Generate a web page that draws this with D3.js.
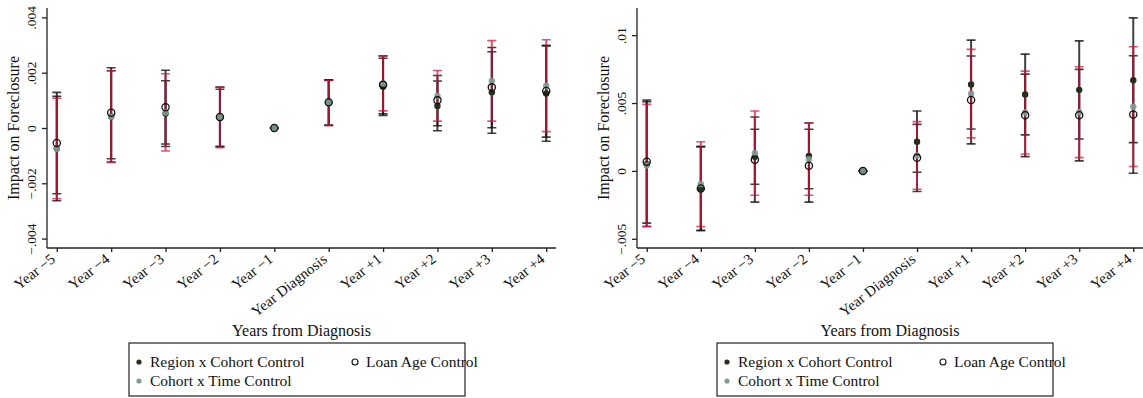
<!DOCTYPE html>
<html>
<head>
<meta charset="utf-8">
<script src="https://cdn.jsdelivr.net/npm/d3@7"></script>
<style>
  body { margin: 0; background: #fff; }
  svg { display: block; font-family: "Liberation Serif", "DejaVu Serif", serif; }
</style>
</head>
<body>
<div id="chart-container"></div>
<script>
// event-study style coefficient plots, two panels side by side
const categories = ["Year \u22125", "Year \u22124", "Year \u22123", "Year \u22122", "Year \u22121",
  "Year Diagnosis", "Year +1", "Year +2", "Year +3", "Year +4"];

const leftTicks = [-0.004, -0.002, 0, 0.002, 0.004];
const leftTickLabels = ["\u2212.004", "\u2212.002", "0", ".002", ".004"];
const rightTicks = [-0.005, 0, 0.005, 0.01];
const rightTickLabels = ["\u2212.005", "0", ".005", ".01"];

const seriesNames = ["Region x Cohort Control", "Loan Age Control", "Cohort x Time Control"];

// left panel (values in per-thousand, scaled below)
const leftRegionEst = [-0.74, 0.42, 0.52, 0.37, 0, 0.91, 1.49, 0.80, 1.29, 1.25];
const leftRegionLo  = [-2.63, -1.23, -0.67, -0.67, 0, 0.09, 0.45, -0.10, -0.19, -0.48];
const leftRegionHi  = [1.15, 2.07, 1.71, 1.40, 0, 1.73, 2.52, 1.70, 2.76, 2.98];

const leftLoanEst = [-0.54, 0.55, 0.75, 0.40, 0, 0.93, 1.56, 1.00, 1.47, 1.34];
const leftLoanLo  = [-2.38, -1.11, -0.58, -0.67, 0, 0.11, 0.51, 0.08, 0.01, -0.33];
const leftLoanHi  = [1.29, 2.18, 2.09, 1.48, 0, 1.74, 2.61, 1.90, 2.91, 2.98];

const leftCohortEst = [-0.75, 0.41, 0.56, 0.38, 0, 0.91, 1.61, 1.16, 1.70, 1.53];
const leftCohortLo  = [-2.56, -1.25, -0.83, -0.71, 0, 0.09, 0.62, 0.25, 0.25, -0.13];
const leftCohortHi  = [1.08, 2.07, 1.96, 1.48, 0, 1.72, 2.61, 2.08, 3.16, 3.19];

// right panel
const rightRegionEst = [0.50, -1.30, 1.04, 1.10, 0, 2.15, 6.36, 5.63, 5.97, 6.68];
const rightRegionLo  = [-4.10, -4.39, -0.98, -1.32, 0, -0.10, 3.09, 2.65, 2.35, 2.08];
const rightRegionHi  = [5.10, 1.79, 3.07, 3.53, 0, 4.41, 9.63, 8.60, 9.58, 11.27];

const rightLoanEst = [0.68, -1.30, 0.83, 0.38, 0, 0.96, 5.22, 4.10, 4.10, 4.15];
const rightLoanLo  = [-3.85, -4.39, -2.30, -2.30, 0, -1.52, 1.99, 1.05, 0.74, -0.17];
const rightLoanHi  = [5.22, 1.79, 3.97, 3.07, 0, 3.43, 8.46, 7.13, 7.48, 8.48];

const rightCohortEst = [0.40, -0.97, 1.31, 0.87, 0, 1.14, 5.68, 4.30, 4.32, 4.73];
const rightCohortLo  = [-4.10, -4.10, -1.79, -1.79, 0, -1.35, 2.43, 1.25, 0.98, 0.32];
const rightCohortHi  = [4.90, 2.15, 4.41, 3.53, 0, 3.63, 8.95, 7.35, 7.67, 9.14];

const width = 1143;
const height = 398;
const marginTop = 8;
const plotBottom = 248;

function rows(est, lo, hi) {
  return categories.map((c, i) => ({cat: c, est: est[i] / 1000, lo: lo[i] / 1000, hi: hi[i] / 1000}));
}

const svg = d3.create("svg")
  .attr("width", width)
  .attr("height", height)
  .attr("viewBox", [0, 0, width, height]);

function panel(opts) {
  const x = d3.scalePoint()
    .domain(categories)
    .range([opts.left, opts.right])
    .padding(0.18);

  const y = d3.scaleLinear()
    .domain(opts.yDomain)
    .range([plotBottom, marginTop]);

  const g = svg.append("g");

  // y axis
  const ya = g.append("g")
    .attr("transform", `translate(${opts.left},0)`)
    .call(d3.axisLeft(y).tickValues(opts.ticks).tickFormat((d, i) => opts.tickLabels[i]).tickSize(5).tickSizeOuter(0));
  ya.selectAll("text")
    .attr("x", null).attr("dy", null)
    .attr("text-anchor", "middle")
    .attr("transform", "translate(-11,0) rotate(-90)")
    .style("font-size", "13.5px")
    .style("font-family", "Liberation Serif")
    .attr("fill", "#111");

  // x axis
  const xa = g.append("g")
    .attr("transform", `translate(0,${plotBottom})`)
    .call(d3.axisBottom(x).tickSize(4).tickSizeOuter(0));
  xa.selectAll("text")
    .attr("y", null).attr("dy", null)
    .attr("text-anchor", "end")
    .attr("transform", "translate(-1,13) rotate(-38)")
    .style("font-size", "15px")
    .style("font-family", "Liberation Serif")
    .attr("fill", "#111");

  g.selectAll(".domain, .tick line").attr("stroke", "#222").attr("stroke-width", 1.3);
  // x axis line runs right to the edge of the plot area
  xa.select(".domain").attr("d", `M${opts.left},0H${opts.right}`);
  ya.select(".domain").attr("d", `M0,${marginTop}V${plotBottom}`);

  // titles
  g.append("text")
    .attr("transform", `translate(${opts.left - 28},${(marginTop + plotBottom) / 2}) rotate(-90)`)
    .attr("text-anchor", "middle")
    .style("font-size", "16px")
    .attr("fill", "#111")
    .text("Impact on Foreclosure");

  g.append("text")
    .attr("x", (opts.left + opts.right) / 2)
    .attr("y", 336)
    .attr("text-anchor", "middle")
    .style("font-size", "16px")
    .attr("fill", "#111")
    .text("Years from Diagnosis");

  // confidence intervals: region, loan age (black), cohort x time (crimson)
  const ciSets = [
    {data: opts.region, color: "#111", op: 0.8},
    {data: opts.loan, color: "#111", op: 0.8},
    {data: opts.cohort, color: "#d4143c", op: 0.72}
  ];
  const cap = 4.5;
  ciSets.forEach(s => {
    const cg = g.append("g").attr("stroke", s.color).attr("stroke-opacity", s.op);
    cg.selectAll("line.v")
      .data(s.data)
      .join("line")
      .attr("x1", d => x(d.cat)).attr("x2", d => x(d.cat))
      .attr("y1", d => y(d.lo)).attr("y2", d => y(d.hi))
      .attr("stroke-width", 2);
    cg.selectAll("path.cap")
      .data(s.data)
      .join("path")
      .attr("d", d => `M${x(d.cat) - cap},${y(d.lo)}H${x(d.cat) + cap}M${x(d.cat) - cap},${y(d.hi)}H${x(d.cat) + cap}`)
      .attr("stroke-width", 1.6)
      .attr("fill", "none");
  });

  // point estimates
  g.append("g").selectAll("circle")
    .data(opts.region)
    .join("circle")
    .attr("cx", d => x(d.cat)).attr("cy", d => y(d.est))
    .attr("r", 3.2)
    .attr("fill", "#22301c");

  g.append("g").selectAll("circle")
    .data(opts.cohort)
    .join("circle")
    .attr("cx", d => x(d.cat)).attr("cy", d => y(d.est))
    .attr("r", 3.2)
    .attr("fill", "#7f9c92")
    .attr("fill-opacity", 0.9);

  g.append("g").selectAll("circle")
    .data(opts.loan)
    .join("circle")
    .attr("cx", d => x(d.cat)).attr("cy", d => y(d.est))
    .attr("r", 3.6)
    .attr("fill", "none")
    .attr("stroke", "#111")
    .attr("stroke-width", 1.3);

  // legend
  const lg = g.append("g").attr("transform", `translate(${opts.legendX},343)`);
  lg.append("rect")
    .attr("x", 0).attr("y", 0)
    .attr("width", 336).attr("height", 53)
    .attr("fill", "#fff").attr("stroke", "#222").attr("stroke-width", 1.2);
  const items = [
    {name: seriesNames[0], cx: 10, cy: 19, kind: "filled"},
    {name: seriesNames[1], cx: 226, cy: 19, kind: "hollow"},
    {name: seriesNames[2], cx: 10, cy: 38, kind: "gray"}
  ];
  items.forEach(it => {
    const m = lg.append("circle").attr("cx", it.cx).attr("cy", it.cy);
    if (it.kind === "filled") m.attr("r", 2.6).attr("fill", "#22301c");
    else if (it.kind === "gray") m.attr("r", 2.6).attr("fill", "#7f9c92");
    else m.attr("r", 3).attr("fill", "none").attr("stroke", "#111").attr("stroke-width", 1.1);
    lg.append("text")
      .attr("x", it.cx + 11).attr("y", it.cy + 5)
      .style("font-size", "15.5px")
      .attr("fill", "#111")
      .text(it.name);
  });
}

panel({
  left: 47, right: 556,
  yDomain: [-0.00434, 0.00434],
  ticks: leftTicks, tickLabels: leftTickLabels,
  region: rows(leftRegionEst, leftRegionLo, leftRegionHi),
  loan: rows(leftLoanEst, leftLoanLo, leftLoanHi),
  cohort: rows(leftCohortEst, leftCohortLo, leftCohortHi),
  legendX: 129
});

panel({
  left: 637, right: 1143,
  yDomain: [-0.00568, 0.012],
  ticks: rightTicks, tickLabels: rightTickLabels,
  region: rows(rightRegionEst, rightRegionLo, rightRegionHi),
  loan: rows(rightLoanEst, rightLoanLo, rightLoanHi),
  cohort: rows(rightCohortEst, rightCohortLo, rightCohortHi),
  legendX: 717
});

d3.select("#chart-container").append(() => svg.node());
</script>
</body>
</html>
